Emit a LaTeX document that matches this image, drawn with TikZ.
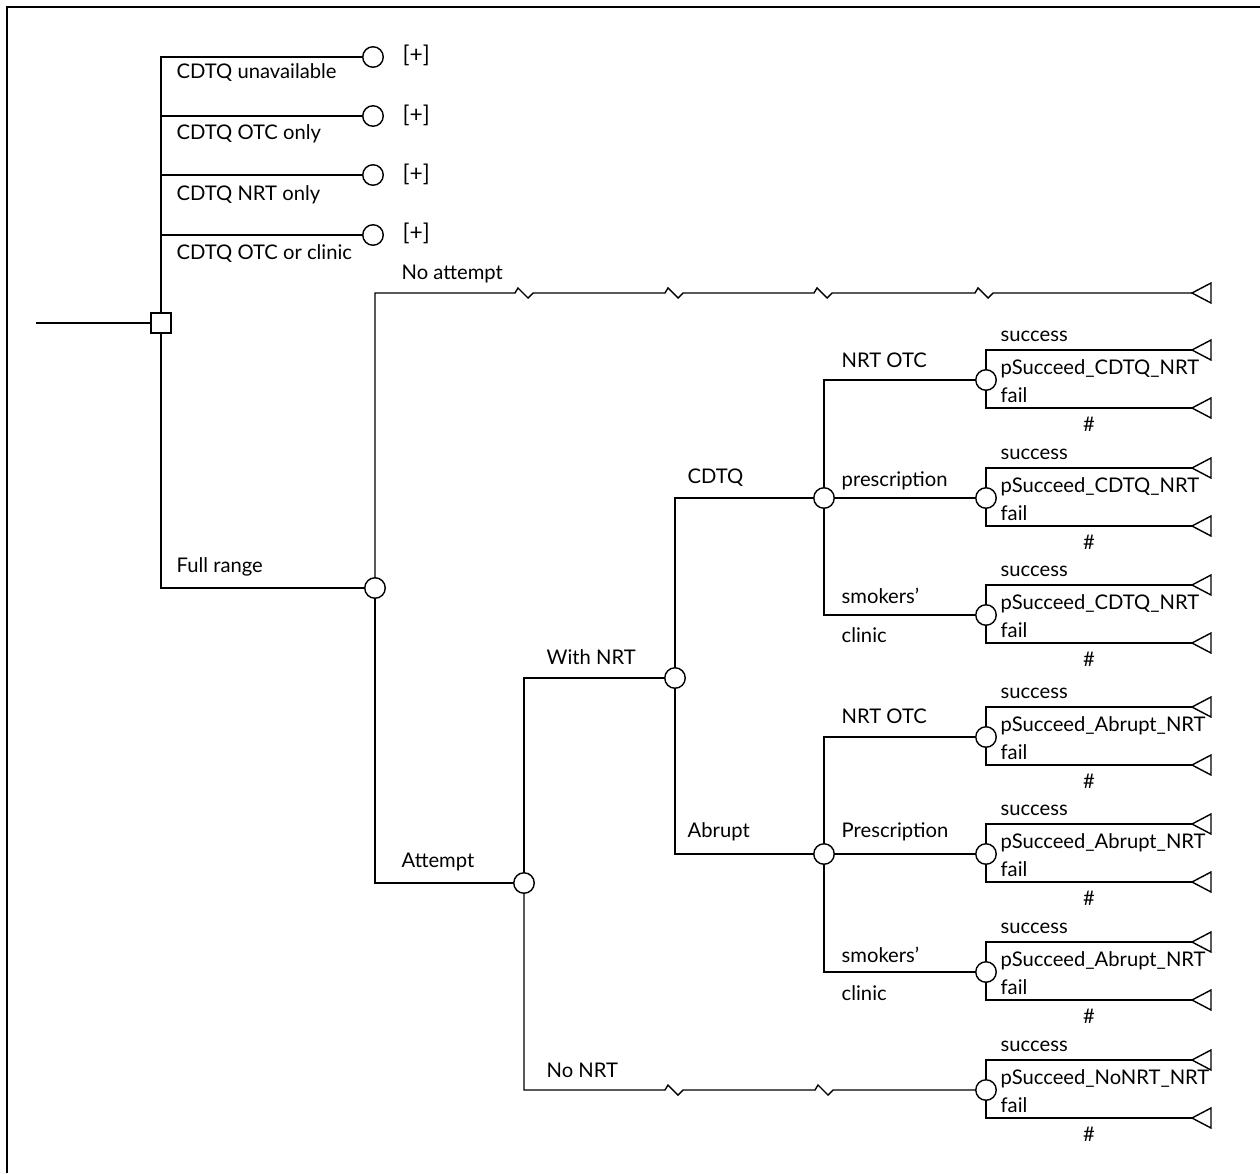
\documentclass[tikz,border=0pt]{standalone}
\usepackage{fontspec}
\setmainfont{Lato}

\tikzset{
  chance/.style={draw, circle, fill=white, inner sep=0pt, minimum size=0.41cm},
  decision/.style={draw, rectangle, fill=white, inner sep=0pt, minimum size=0.4cm},
  lbl/.style={anchor=west, inner sep=0pt, font=\fontsize{11.5}{13}\selectfont},
  zz/.style={insert path={-- ++(3,-5) -- ++(10,10) -- ++(5,-5)}},
}

\begin{document}
\begin{tikzpicture}[x=0.02cm, y=-0.02cm, line width=0.8pt]
\useasboundingbox (0,0) rectangle (1260,1173);
%frame, only top and left edges show
\draw[line width=1.1pt] (7,1173) -- (7,7) -- (1260,7);

%the decision node and the line coming in
\coordinate (in) at (36,323);
\node[decision] (root) at (161,323) {};
\draw (in) -- (root);

%four collapsed strategies
\node[chance] (u1) at (373,57) {};
\node[chance] (u2) at (373,116) {};
\node[chance] (u3) at (373,175) {};
\node[chance] (u4) at (373,235) {};
\draw (root) |- (u1);
\draw (root) |- (u2);
\draw (root) |- (u3);
\draw (root) |- (u4);
\node[lbl] (tu1) at (176,73) {CDTQ unavailable};
\node[lbl] (tu2) at (176,134) {CDTQ OTC only};
\node[lbl] (tu3) at (176,195) {CDTQ NRT only};
\node[lbl] (tu4) at (176,254) {CDTQ OTC or clinic};
\node[lbl, font=\fontsize{13}{15}\selectfont] (pu1) at (402,55) {[+]};
\node[lbl, font=\fontsize{13}{15}\selectfont] (pu2) at (402,115) {[+]};
\node[lbl, font=\fontsize{13}{15}\selectfont] (pu3) at (402,174) {[+]};
\node[lbl, font=\fontsize{13}{15}\selectfont] (pu4) at (402,233) {[+]};

%full range, then attempt or not
\node[chance] (full) at (375,588) {};
\draw (root) |- (full);
\node[lbl] (tfull) at (176,567) {Full range};
\coordinate (none) at (1192,293);
\draw (full) |- (515,293) [zz] -- (665,293) [zz] -- (814,293) [zz]
  -- (975,293) [zz] -- (none);
\draw (none) -- ++(19,-10) -- ++(0,20) -- cycle;
\node[lbl] (tnone) at (401,274) {No attempt};

\node[chance] (att) at (524,883) {};
\draw (full) |- (att);
\node[lbl] (tatt) at (401,862) {Attempt};

%with or without NRT
\node[chance] (wnrt) at (675,678) {};
\draw (att) |- (wnrt);
\node[lbl] (twnrt) at (546,657) {With NRT};
\node[lbl] (tnonrt) at (546,1070) {No NRT};

%CDTQ or abrupt
\node[chance] (cdtq) at (824,498) {};
\node[chance] (abr) at (824,854) {};
\draw (wnrt) |- (cdtq);
\draw (wnrt) |- (abr);
\node[lbl] (tcdtq) at (687,478) {CDTQ};
\node[lbl] (tabr) at (687,832) {Abrupt};

\node[lbl] (tc1) at (841,360) {NRT OTC};
\node[lbl] (tc2) at (841,481) {prescription};
\node[lbl] (tc3) at (841,596) {smokers’};
\node[lbl] (tc3b) at (841,635) {clinic};
\node[lbl] (ta1) at (841,716) {NRT OTC};
\node[lbl] (ta2) at (841,832) {Prescription};
\node[lbl] (ta3) at (841,955) {smokers’};
\node[lbl] (ta3b) at (841,993) {clinic};

%success / fail at the end of each path
\foreach \y/\p/\n in {380/CDTQ/1, 498/CDTQ/2, 615/CDTQ/3, 737/Abrupt/4,
    854/Abrupt/5, 972/Abrupt/6, 1090/NoNRT/7}{
  \node[chance] (l\n) at (986,\y) {};
  \coordinate (s\n) at (1192,\y-30);
  \coordinate (f\n) at (1192,\y+28);
  \draw (l\n) |- (s\n);
  \draw (l\n) |- (f\n);
  \draw (s\n) -- ++(19,-10) -- ++(0,20) -- cycle;
  \draw (f\n) -- ++(19,-10) -- ++(0,20) -- cycle;
  \node[lbl] (ls\n) at (1000,\y-44) {success};
  \node[lbl] (lp\n) at (1000,\y-11) {pSucceed\_\p\_NRT};
  \node[lbl] (lf\n) at (1000,\y+15) {fail};
  \node[lbl, anchor=center] (lh\n) at (1089,\y+44) {\#};
}

\draw (cdtq) |- (l1);
\draw (cdtq) -- (l2);
\draw (cdtq) |- (l3);
\draw (abr) |- (l4);
\draw (abr) -- (l5);
\draw (abr) |- (l6);
\draw (att) |- (665,1090) [zz] -- (815,1090) [zz] -- (l7);
\end{tikzpicture}
\end{document}
